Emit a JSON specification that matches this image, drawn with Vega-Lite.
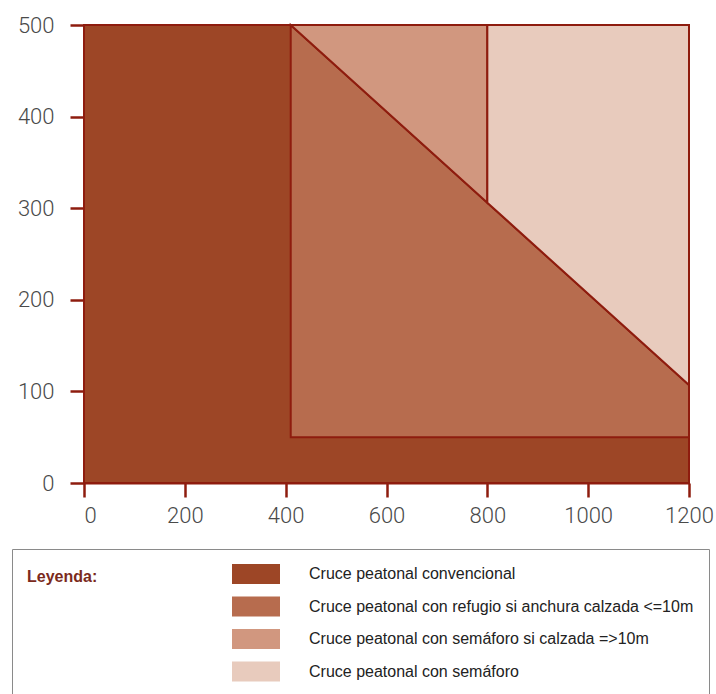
{
  "$schema": "https://vega.github.io/schema/vega-lite/v6.json",
  "width": 605,
  "height": 458,
  "autosize": {"type": "none"},
  "padding": {"left": 84, "top": 25, "right": 27, "bottom": 211},
  "background": "white",
  "data": {"values": [
    {"tipo": "Cruce peatonal convencional", "x": 0, "y": 0, "y2": 500},
    {"tipo": "Cruce peatonal convencional", "x": 1200, "y": 0, "y2": 500},
    {"tipo": "Cruce peatonal con refugio si anchura calzada <=10m", "x": 410, "y": 50, "y2": 500},
    {"tipo": "Cruce peatonal con refugio si anchura calzada <=10m", "x": 800, "y": 50, "y2": 306},
    {"tipo": "Cruce peatonal con refugio si anchura calzada <=10m", "x": 1200, "y": 50, "y2": 107},
    {"tipo": "Cruce peatonal con semáforo si calzada =>10m", "x": 410, "y": 500, "y2": 500},
    {"tipo": "Cruce peatonal con semáforo si calzada =>10m", "x": 800, "y": 306, "y2": 500},
    {"tipo": "Cruce peatonal con semáforo", "x": 800, "y": 306, "y2": 500},
    {"tipo": "Cruce peatonal con semáforo", "x": 1200, "y": 107, "y2": 500}
  ]},
  "encoding": {
    "x": {"field": "x", "type": "quantitative",
      "scale": {"domain": [0, 1200], "nice": false, "zero": false},
      "axis": {"title": null, "values": [0, 200, 400, 600, 800, 1000, 1200], "format": "d", "grid": false,
        "labelFlush": false,
        "labelAlign": {"condition": {"test": "datum.value <= 0", "value": "left"}, "value": "center"}}},
    "y": {"field": "y", "type": "quantitative", "stack": null,
      "scale": {"domain": [0, 500], "nice": false},
      "axis": {"title": null, "values": [0, 100, 200, 300, 400, 500], "format": "d", "grid": false, "labelFlush": false}},
    "y2": {"field": "y2"},
    "color": {"field": "tipo", "type": "nominal",
      "scale": {
        "domain": ["Cruce peatonal convencional", "Cruce peatonal con refugio si anchura calzada <=10m", "Cruce peatonal con semáforo si calzada =>10m", "Cruce peatonal con semáforo"],
        "range": ["#9D4626", "#B76C4E", "#D1977F", "#E8CBBD"]
      },
      "legend": {
        "orient": "none", "legendX": -72, "legendY": 524,
        "title": "Leyenda:", "titleOrient": "left", "titleAnchor": "start", "titleBaseline": "line-top", "titleLineHeight": 26,
        "titleFont": "Liberation Sans", "titleFontSize": 16, "titleFontWeight": "bold", "titleColor": "#7B2A1C",
        "titlePadding": 148,
        "symbolType": "M-2.4,-1H2.4V1H-2.4Z", "symbolSize": 400, "symbolStrokeWidth": 0, "symbolOpacity": 1,
        "labelFont": "Liberation Sans", "labelFontSize": 16, "labelColor": "#222222", "labelOffset": 43, "labelLimit": 600,
        "rowPadding": 12.5,
        "padding": 15, "strokeColor": "#8a8a8a"
      }
    }
  },
  "layer": [
    {"transform": [{"filter": "datum.tipo === 'Cruce peatonal convencional'"}],
     "mark": {"type": "area", "opacity": 1, "stroke": "#8E1C0E", "strokeWidth": 2}},
    {"transform": [{"filter": "datum.tipo === 'Cruce peatonal con refugio si anchura calzada <=10m'"}],
     "mark": {"type": "area", "opacity": 1, "stroke": "#8E1C0E", "strokeWidth": 2}},
    {"transform": [{"filter": "datum.tipo === 'Cruce peatonal con semáforo si calzada =>10m'"}],
     "mark": {"type": "area", "opacity": 1, "stroke": "#8E1C0E", "strokeWidth": 2}},
    {"transform": [{"filter": "datum.tipo === 'Cruce peatonal con semáforo'"}],
     "mark": {"type": "area", "opacity": 1, "stroke": "#8E1C0E", "strokeWidth": 2}}
  ],
  "config": {
    "view": {"stroke": null},
    "axis": {
      "domainColor": "#8E1C0E", "domainWidth": 2,
      "tickColor": "#8E1C0E", "tickWidth": 2.5, "tickSize": 14,
      "labelFont": "Roboto", "labelFontSize": 22, "labelFontWeight": 300, "labelColor": "#4a4a4a"
    },
    "axisY": {"labelPadding": 16},
    "axisX": {"labelPadding": 8}
  }
}
